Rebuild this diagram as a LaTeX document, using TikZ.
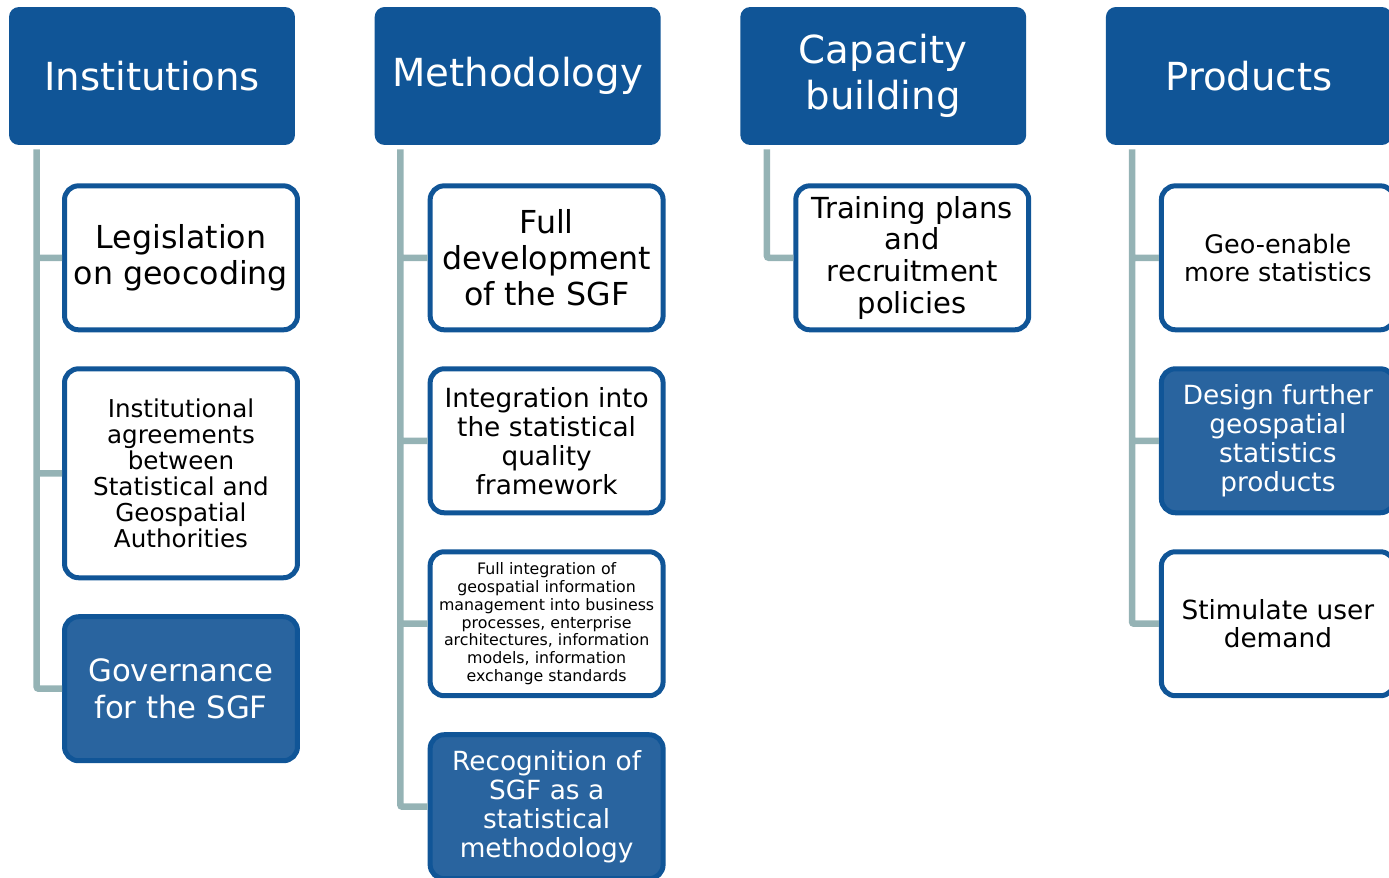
\documentclass[tikz,border=0pt]{standalone}
\usepackage{fontspec}
\setmainfont{DejaVu Sans}
\usetikzlibrary{positioning}
\definecolor{hdrblue}{RGB}{16,85,151}
\definecolor{hlblue}{RGB}{41,100,159}
\definecolor{linkgray}{RGB}{149,179,181}
\tikzset{
	node distance=0.68cm, % Separacion vertical entre cajas
	header/.style={fill=hdrblue, text=white, rounded corners=0.2cm, minimum width=5.72cm, minimum height=2.76cm, align=center, inner sep=0pt, font=\fontsize{22}{26}\selectfont}, % Cabeceras de columna
	item/.style={draw=hdrblue, fill=white, text=black, line width=0.1cm, rounded corners=0.28cm, minimum width=4.66cm, minimum height=2.88cm, align=center, inner sep=0pt}, % Cajas de cada columna
	hl/.style={item, fill=hlblue, text=white}, % Cajas resaltadas
	link/.style={draw=linkgray, line width=0.13cm, rounded corners=0.04cm} % Lineas de union
}

\begin{document}
\begin{tikzpicture}[x=0.02cm, y=-0.02cm]
	\useasboundingbox (0,0) rectangle (1389,878);
	\clip (0,0) rectangle (1389,878);
	% Cabeceras
	\node[header] (inst) at (152,76) {Institutions};
	\node[header, right=1.58cm of inst] (meth) {Methodology};
	\node[header, right=1.58cm of meth] (cap) {Capacity\\building};
	\node[header, right=1.58cm of cap] (prod) {Products};
	% Institutions
	\node[item, below=0.76cm of inst, xshift=0.58cm, font=\fontsize{18}{20.4}\selectfont] (leg) {Legislation\\on geocoding};
	\node[item, below=of leg, minimum height=4.18cm, font=\fontsize{14}{14.7}\selectfont] (agr) {Institutional\\agreements\\between\\Statistical and\\Geospatial\\Authorities};
	\node[hl, below=of agr, font=\fontsize{17.5}{21}\selectfont] (gov) {Governance\\for the SGF};
	% Methodology
	\node[item, below=0.76cm of meth, xshift=0.58cm, font=\fontsize{18}{20.4}\selectfont] (dev) {Full\\development\\of the SGF};
	\node[item, below=of dev, font=\fontsize{15}{16.5}\selectfont] (intq) {Integration into\\the statistical\\quality\\framework};
	\node[item, below=of intq, font=\fontsize{9}{10.1}\selectfont] (gim) {Full integration of\\geospatial information\\management into business\\processes, enterprise\\architectures, information\\models, information\\exchange standards};
	\node[hl, below=of gim, font=\fontsize{15}{16.5}\selectfont] (rec) {Recognition of\\SGF as a\\statistical\\methodology};
	% Capacity building
	\node[item, below=0.76cm of cap, xshift=0.58cm, font=\fontsize{16.5}{18.1}\selectfont] (train) {Training plans\\and\\recruitment\\policies};
	% Products
	\node[item, below=0.76cm of prod, xshift=0.58cm, font=\fontsize{14.5}{15.9}\selectfont] (geo) {Geo-enable\\more statistics};
	\node[hl, below=of geo, font=\fontsize{15}{16.5}\selectfont] (des) {Design further\\geospatial\\statistics\\products};
	\node[item, below=of des, font=\fontsize{15}{15.9}\selectfont] (stim) {Stimulate user\\demand};
	% Uniones
	\draw[link] ([xshift=0.56cm, yshift=-0.08cm]inst.south west) |- (leg.west)
		([xshift=0.56cm, yshift=-0.08cm]inst.south west) |- (agr.west)
		([xshift=0.56cm, yshift=-0.08cm]inst.south west) |- (gov.west)
		([xshift=0.52cm, yshift=-0.08cm]meth.south west) |- (dev.west)
		([xshift=0.52cm, yshift=-0.08cm]meth.south west) |- (intq.west)
		([xshift=0.52cm, yshift=-0.08cm]meth.south west) |- (gim.west)
		([xshift=0.52cm, yshift=-0.08cm]meth.south west) |- (rec.west)
		([xshift=0.54cm, yshift=-0.08cm]cap.south west) |- (train.west)
		([xshift=0.53cm, yshift=-0.08cm]prod.south west) |- (geo.west)
		([xshift=0.53cm, yshift=-0.08cm]prod.south west) |- (des.west)
		([xshift=0.53cm, yshift=-0.08cm]prod.south west) |- (stim.west);
\end{tikzpicture}
\end{document}
